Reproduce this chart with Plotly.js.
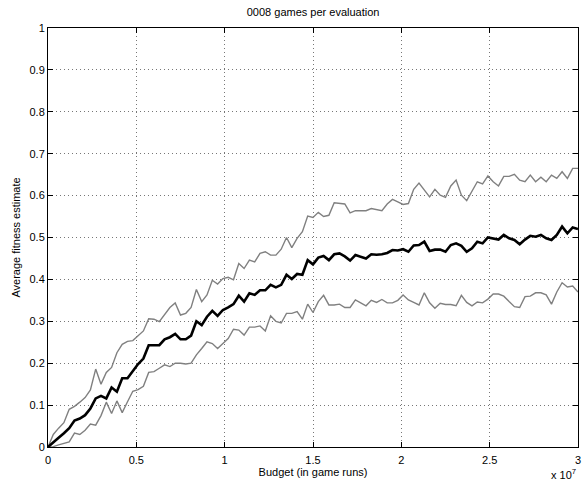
<!DOCTYPE html>
<html>
<head>
<meta charset="utf-8">
<script src="https://cdn.plot.ly/plotly-3.0.1.min.js"></script>
<style>html,body{margin:0;padding:0;background:#fff;}#chart{width:582px;height:481px;}</style>
</head>
<body>
<div id="chart"></div>
<script>
// Budget steps (index -> budget = index * 3e5 game runs)
const stepSize = 3e5;
const meanFitness = [0,0.012,0.022,0.033,0.045,0.063,0.068,0.076,0.092,0.116,
0.122,0.116,0.142,0.132,0.164,0.164,0.18,0.198,0.211,0.243,
0.243,0.243,0.257,0.262,0.27,0.257,0.257,0.266,0.3,0.291,
0.311,0.325,0.313,0.327,0.333,0.341,0.361,0.347,0.367,0.363,
0.374,0.374,0.387,0.381,0.387,0.411,0.401,0.413,0.411,0.446,
0.436,0.452,0.456,0.446,0.46,0.462,0.455,0.445,0.458,0.454,
0.45,0.46,0.459,0.46,0.463,0.47,0.469,0.472,0.466,0.481,
0.482,0.49,0.468,0.471,0.471,0.466,0.482,0.486,0.48,0.466,
0.474,0.49,0.486,0.5,0.498,0.495,0.506,0.498,0.494,0.484,
0.495,0.504,0.502,0.506,0.498,0.494,0.506,0.526,0.51,0.524,0.52];
const upperFitness = [0,0.03,0.045,0.058,0.09,0.097,0.107,0.118,0.136,0.186,
0.15,0.178,0.19,0.225,0.245,0.252,0.254,0.265,0.277,0.306,
0.305,0.299,0.315,0.333,0.344,0.315,0.319,0.333,0.376,0.347,
0.363,0.398,0.389,0.402,0.405,0.399,0.438,0.426,0.446,0.442,
0.462,0.466,0.458,0.458,0.472,0.5,0.476,0.498,0.514,0.551,
0.548,0.56,0.55,0.553,0.583,0.581,0.58,0.559,0.564,0.564,
0.564,0.569,0.567,0.564,0.58,0.591,0.585,0.579,0.581,0.615,
0.63,0.613,0.597,0.615,0.601,0.596,0.623,0.637,0.601,0.588,
0.609,0.633,0.628,0.647,0.633,0.623,0.646,0.646,0.651,0.637,
0.633,0.649,0.633,0.644,0.633,0.649,0.641,0.657,0.641,0.665,0.665];
const lowerFitness = [0,0.001,0.005,0.008,0.012,0.033,0.03,0.04,0.055,0.052,
0.075,0.107,0.08,0.11,0.082,0.108,0.133,0.137,0.145,0.178,
0.18,0.188,0.196,0.192,0.2,0.2,0.198,0.2,0.22,0.235,
0.251,0.247,0.235,0.247,0.259,0.281,0.279,0.267,0.286,0.286,
0.289,0.277,0.313,0.3,0.296,0.319,0.319,0.323,0.305,0.341,
0.321,0.347,0.362,0.339,0.339,0.341,0.333,0.333,0.351,0.344,
0.337,0.35,0.345,0.352,0.344,0.344,0.35,0.363,0.351,0.345,
0.339,0.368,0.344,0.331,0.343,0.34,0.34,0.337,0.362,0.345,
0.337,0.346,0.344,0.353,0.365,0.365,0.36,0.347,0.335,0.333,
0.359,0.36,0.368,0.368,0.363,0.341,0.37,0.392,0.382,0.384,0.37];
const budget = meanFitness.map((_, i) => i * stepSize);

const xTickVals = [0, 5e6, 1e7, 1.5e7, 2e7, 2.5e7, 3e7];
const xTickText = ["0", "0.5", "1", "1.5", "2", "2.5", "3"];
const yTickVals = [0,0.1,0.2,0.3,0.4,0.5,0.6,0.7,0.8,0.9,1];
const yTickText = ["0","0.1","0.2","0.3","0.4","0.5","0.6","0.7","0.8","0.9","1"];

const font = {family: "Liberation Sans, Arial, sans-serif", size: 11, color: "#000"};

const traces = [
  {x: budget, y: upperFitness, mode: "lines", line: {color: "#808080", width: 1.4}, hoverinfo: "skip"},
  {x: budget, y: lowerFitness, mode: "lines", line: {color: "#808080", width: 1.4}, hoverinfo: "skip"},
  {x: budget, y: meanFitness, mode: "lines", line: {color: "#000", width: 2.6}, hoverinfo: "skip"}
];

const axisCommon = {
  showline: true, linecolor: "#000", linewidth: 1, mirror: "ticks",
  ticks: "inside", ticklen: 5, tickcolor: "#000", tickwidth: 1,
  showgrid: true, gridcolor: "#777", gridwidth: 1, griddash: "1px,3px",
  zeroline: false, tickfont: font
};

const layout = {
  width: 582, height: 481,
  margin: {l: 48, r: 4, t: 28, b: 34, pad: 0},
  paper_bgcolor: "#fff", plot_bgcolor: "#fff",
  showlegend: false, font: font,
  title: {text: "0008 games per evaluation", font: font, x: 0.538, xanchor: "center", y: 0.975, yanchor: "middle", yref: "container"},
  xaxis: Object.assign({}, axisCommon, {
    range: [0, 3e7], tickmode: "array", tickvals: xTickVals, ticktext: xTickText,
    ticklabelstandoff: 3,
    title: {text: "Budget (in game runs)", font: font, standoff: 2}
  }),
  yaxis: Object.assign({}, axisCommon, {
    range: [0, 1], tickmode: "array", tickvals: yTickVals, ticktext: yTickText,
    title: {text: "Average fitness estimate", font: font, standoff: 6}
  }),
  annotations: [{
    text: "x 10<sup>7</sup>", xref: "paper", yref: "paper", x: 1.0, y: -0.064,
    xanchor: "right", yanchor: "middle", showarrow: false, font: font
  }]
};

Plotly.newPlot("chart", traces, layout, {staticPlot: true, displayModeBar: false});
</script>
</body>
</html>
